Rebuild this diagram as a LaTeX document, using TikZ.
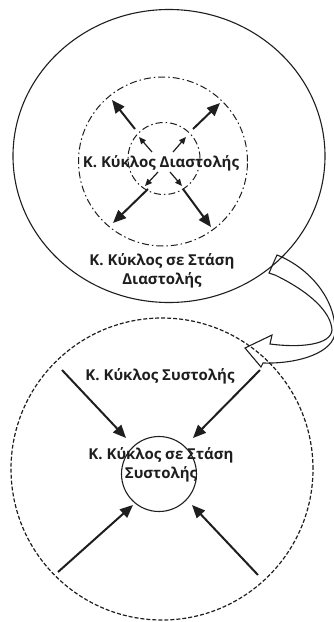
\documentclass[tikz,border=0pt]{standalone}
\usepackage{fontspec}
\setmainfont{Open Sans}
\usetikzlibrary{arrows.meta,shapes.geometric}
\definecolor{ink}{HTML}{1E1E1E}
\tikzset{
  lbl/.style={font=\bfseries\fontsize{15}{19.5}\selectfont, text=ink, align=center, inner sep=0pt},
  ring/.style={draw=ink, line width=1.1pt, circle, inner sep=0pt},
  dashdot/.style={dash pattern=on 7pt off 3pt on 1.5pt off 3pt},
  bigarrow/.style={draw=ink, line width=2pt, -{Triangle[length=13pt,width=11pt]}},
  smallarrow/.style={draw=ink, line width=1.2pt, -{Triangle[length=7pt,width=6pt]}},
  blockarrow/.style={draw=ink, line width=1.1pt, line join=miter}
}
\begin{document}
\begin{tikzpicture}[x=1pt,y=-1pt]
\useasboundingbox (0,0) rectangle (334,622);
% circles
\node[ring, ellipse, minimum width=312pt, minimum height=293pt] (outerTop) at (169,156) {};
\node[ring, dashdot, line width=1pt, minimum size=169pt] (dd1) at (163,161.5) {};
\node[ring, dashdot, line width=1pt, minimum size=72pt] (dd2) at (164,158.5) {};
\node[ring, dashed, dash pattern=on 4pt off 2pt, line width=1.2pt, minimum size=302pt] (outerBot) at (162,469) {};
\node[ring, minimum size=75pt] (small) at (159,474) {};
% labels
\node[lbl] (t1) at (161,163) {Κ. Κύκλος Διαστολής};
\node[lbl] (t2) at (162,271) {Κ. Κύκλος σε Στάση\\Διαστολής};
\node[lbl] (t3) at (160,376) {Κ. Κύκλος Συστολής};
\node[lbl] (t4) at (161,465) {Κ. Κύκλος σε Στάση\\Συστολής};
% top arrow coordinates
\coordinate (a1s) at (135,129); \coordinate (a1e) at (112,100);
\coordinate (a2s) at (193,129); \coordinate (a2e) at (220,103);
\coordinate (a3s) at (148,189); \coordinate (a3e) at (113,223);
\coordinate (a4s) at (183,189); \coordinate (a4e) at (211,227);
\coordinate (b1s) at (152,152); \coordinate (b1e) at (139,137);
\coordinate (b2s) at (173,152); \coordinate (b2e) at (186,137);
\coordinate (b3s) at (158,172); \coordinate (b3e) at (145,186);
\coordinate (b4s) at (170,172); \coordinate (b4e) at (182,186);
\draw[bigarrow] (a1s) -- (a1e);
\draw[bigarrow] (a2s) -- (a2e);
\draw[bigarrow] (a3s) -- (a3e);
\draw[bigarrow] (a4s) -- (a4e);
\draw[smallarrow] (b1s) -- (b1e);
\draw[smallarrow] (b2s) -- (b2e);
\draw[smallarrow] (b3s) -- (b3e);
\draw[smallarrow] (b4s) -- (b4e);
% bottom arrows
\coordinate (c1s) at (62,370); \coordinate (c1e) at (126,438);
\coordinate (c2s) at (260,370); \coordinate (c2e) at (193,438);
\coordinate (c3s) at (58,572); \coordinate (c3e) at (133,505);
\coordinate (c4s) at (258,575); \coordinate (c4e) at (192,505);
\draw[bigarrow] (c1s) -- (c1e);
\draw[bigarrow] (c2s) -- (c2e);
\draw[bigarrow] (c3s) -- (c3e);
\draw[bigarrow] (c4s) -- (c4e);
% curved block arrow
\begin{scope}
\clip (0,0) rectangle (334,622);
\draw[blockarrow] (277,255)
  .. controls (310,268) and (336,300) .. (335,332)
  .. controls (334,352) and (300,364) .. (263,363)
  -- (261,367) -- (245,348) -- (272,335) -- (270,344)
  .. controls (300,348) and (331,345) .. (332,330)
  .. controls (331,312) and (310,292) .. (275,275)
  -- (269,273) -- cycle;
\end{scope}
\end{tikzpicture}
\end{document}
